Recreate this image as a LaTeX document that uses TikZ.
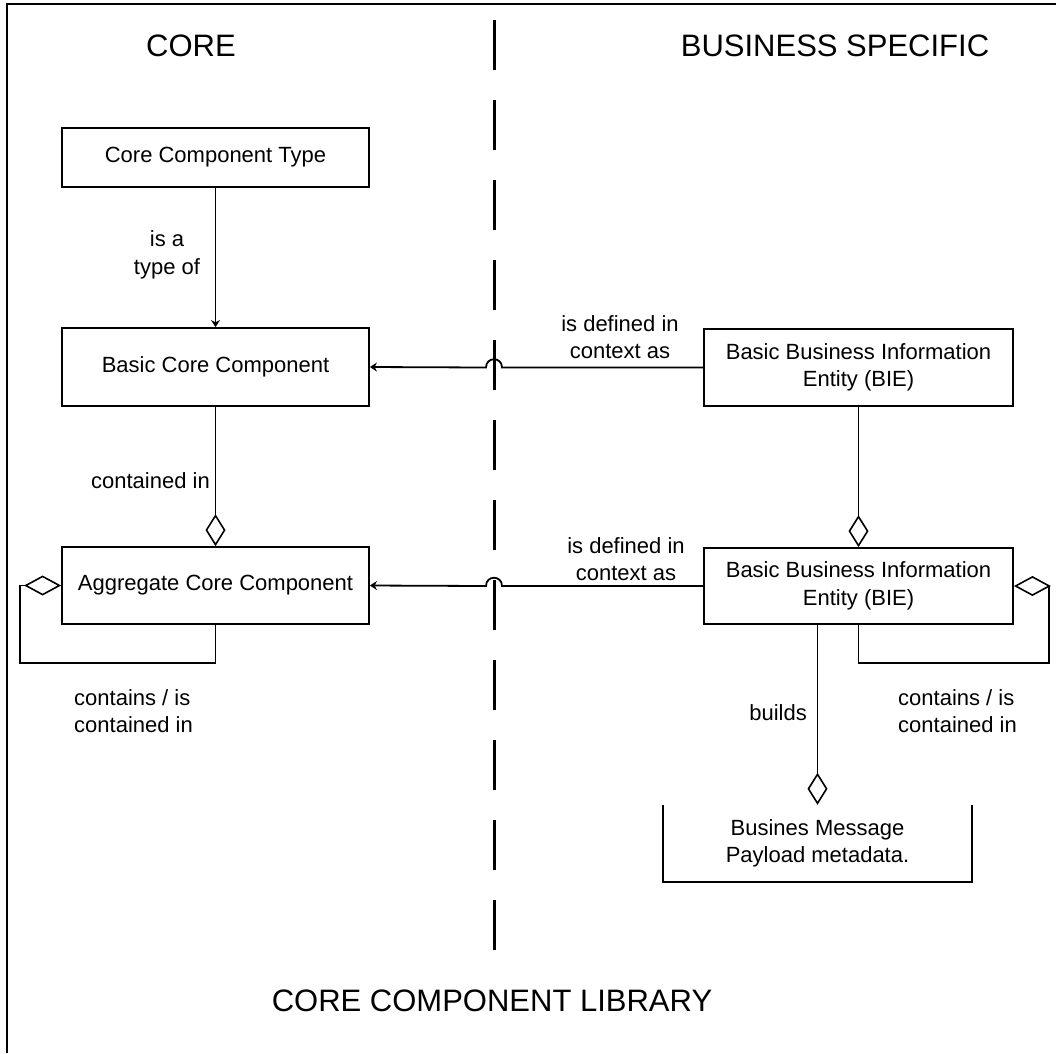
\documentclass[tikz,border=0pt]{standalone}
\usepackage{fontspec}
\setmainfont{Liberation Sans}
\usetikzlibrary{arrows.meta,calc}
\newcommand\lblfont{\fontsize{22pt}{27.5pt}\selectfont}
\newcommand\headfont{\fontsize{31pt}{36pt}\selectfont}
\begin{document}
\begin{tikzpicture}[x=1pt,y=-1pt,
  umlbox/.style={draw,line width=1.8pt,inner sep=0pt,align=center,font=\lblfont},
  lbl/.style={inner sep=0pt,font=\lblfont},
  heading/.style={inner sep=0pt,font=\headfont},
  conn/.style={line width=1.8pt},
  tip/.style={-{Stealth[length=7pt,width=9pt]}},
  agg/.style={-{Diamond[open,length=32pt,width=20pt,line width=1.6pt]}},
  selfagg/.style={-{Diamond[open,length=37pt,width=20pt,line width=1.6pt]}}]
\useasboundingbox (0,0) rectangle (1056,1053);
\fill[white] (0,0) rectangle (1056,1053);

% page frame
\draw[line width=2.5pt] (1056,4) -- (7,4) -- (7,1053);

% column headings and title
\node[heading] (hcore) at (191,46) {CORE};
\node[heading] (hbus) at (835,46) {BUSINESS SPECIFIC};
\node[heading] (hlib) at (492,1001) {CORE COMPONENT LIBRARY};

% dashed divider between the two columns
\coordinate (divtop) at (494,20);
\coordinate (divbot) at (494,952);
\draw[line width=3pt,dash pattern=on 50pt off 30pt] (divtop) -- (divbot);

% core side
\node[umlbox,minimum width=307pt,minimum height=59pt] (cct) at (215.5,157.5) {Core Component Type};
\node[umlbox,minimum width=307pt,minimum height=78pt] (bcc) at (215.5,367) {Basic Core Component};
\node[umlbox,minimum width=307pt,minimum height=77pt] (acc) at (215.5,585.5) {Aggregate Core Component};

% business side
\node[umlbox,minimum width=309pt,minimum height=77pt] (bbie) at (858.5,367.5) {Basic Business Information\\Entity (BIE)};
\node[umlbox,minimum width=309pt,minimum height=76pt] (abie) at (858.5,586) {Basic Business Information\\Entity (BIE)};
\node[lbl,align=center,minimum width=309pt,minimum height=77pt] (msg) at (817.5,843.5) {Busines Message\\Payload metadata.};
\draw[line width=1.8pt] (msg.north west) -- (msg.south west) -- (msg.south east) -- (msg.north east);

% relations on the core side
\draw[conn,tip] (cct.south) -- (bcc.north);
\draw[conn,agg] (bcc.south) -- (acc.north);
\coordinate (loopL) at (20,663);
\draw[conn,selfagg] (acc.south) |- (loopL) |- (acc.west);

% "is defined in context as" links, hopping over the divider
\coordinate (hopAr) at ($(bbie.west -| divtop)+(8,0)$);
\coordinate (hopAl) at ($(bbie.west -| divtop)+(-8,0)$);
\draw[conn,tip] (bbie.west) -- (hopAr) .. controls +(0,-11) and +(0,-11) .. (hopAl) -- (bcc.east);
\coordinate (hopBr) at ($(abie.west -| divtop)+(8,0)$);
\coordinate (hopBl) at ($(abie.west -| divtop)+(-8,0)$);
\draw[conn,tip] (abie.west) -- (hopBr) .. controls +(0,-11) and +(0,-11) .. (hopBl) -- (acc.east);

% relations on the business side
\draw[conn,agg] (bbie.south) -- (abie.north);
\coordinate (loopR) at (1049,663);
\draw[conn,selfagg] (abie.south) |- (loopR) |- (abie.east);
\draw[conn,agg] (abie.south -| msg.north) -- (msg.north);

% connector labels
\node[lbl,align=center] (lisa) at (167,255) {is a\\type of};
\node[lbl,anchor=east] (lcont) at (210,481) {contained in};
\node[lbl,align=center] (ldef1) at (620,337) {is defined in\\context as};
\node[lbl,align=center] (ldef2) at (626,559) {is defined in\\context as};
\node[lbl,anchor=east] (lbuild) at (807,713) {builds};
\node[lbl,align=left,anchor=west] (lselfL) at (74,711) {contains / is\\contained in};
\node[lbl,align=left,anchor=west] (lselfR) at (898,711) {contains / is\\contained in};
\end{tikzpicture}
\end{document}
